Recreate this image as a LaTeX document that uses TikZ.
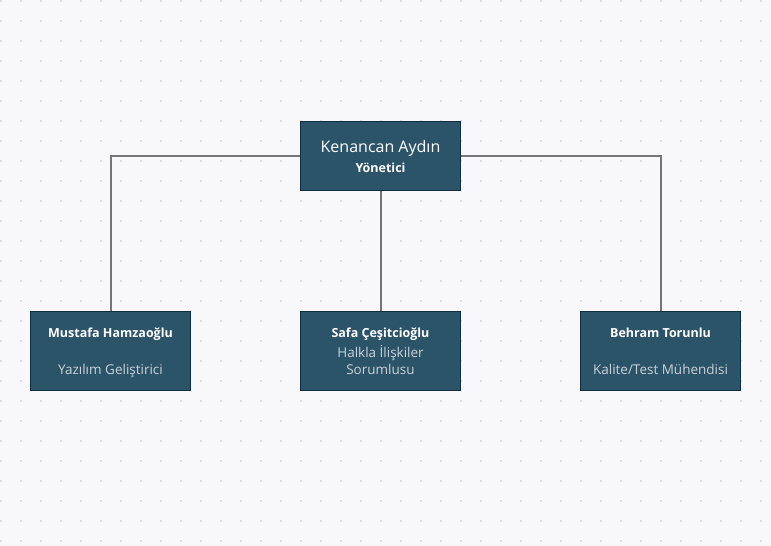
\documentclass[tikz,border=0pt]{standalone}
\usepackage{fontspec}
\setmainfont{Open Sans}
\usepackage{xcolor}
\usepackage{tikz}
\usetikzlibrary{positioning}
\usetikzlibrary{calc}

\definecolor{paper}{HTML}{F8F8FA}
\definecolor{griddot}{HTML}{D2D2D6}
\definecolor{boxfill}{HTML}{2C5469}
\definecolor{boxline}{HTML}{0F2E44}
\definecolor{linkgray}{HTML}{757575}
\definecolor{rolegray}{HTML}{C9D2DA}

\begin{document}
\begin{tikzpicture}[x=1pt,y=-1pt,
  person/.style={draw=boxline, fill=boxfill, line width=1.5pt, minimum width=160pt, inner sep=0pt},
  personname/.style={text=white, font=\bfseries\fontsize{12.5}{17}\selectfont, anchor=base, inner sep=0pt},
  personrole/.style={text=rolegray, font=\fontsize{13.5}{17}\selectfont, align=center, anchor=south, inner sep=0pt, text depth=0pt},
  link/.style={draw=linkgray, line width=2pt}]

% Define parameters
\pgfmathsetmacro{\topy}{156}
\pgfmathsetmacro{\rowy}{351}

% Draw background and dots
\fill[paper] (0,0) rectangle (771,546);
\useasboundingbox (0,0) rectangle (771,546);
\foreach \x in {1,21,...,771}
  \foreach \y in {1,21,...,546}
    \fill[griddot] (\x,\y) circle (1.1pt);

% Draw boxes
\node[person, minimum height=69pt, text=white, align=center,
  font=\fontsize{12.5}{20}\selectfont] (boss) at (380.5,\topy)
  {{\fontsize{16}{20}\selectfont Kenancan Aydın}\\{\bfseries Yönetici}};
\node[person, minimum height=79pt] (mustafa) at (110.5,\rowy) {};
\node[person, minimum height=79pt] (safa) at (380.5,\rowy) {};
\node[person, minimum height=79pt] (behram) at (660.5,\rowy) {};

% Draw names and roles
\node[personname] (mustafaname) at ([yshift=-27pt]mustafa.north) {Mustafa Hamzaoğlu};
\node[personrole] (mustafarole) at ([yshift=17pt]mustafa.south) {Yazılım Geliştirici};
\node[personname] (safaname) at ([yshift=-27pt]safa.north) {Safa Çeşitcioğlu};
\node[personrole] (safarole) at ([yshift=17pt]safa.south) {Halkla İlişkiler\\Sorumlusu};
\node[personname] (behramname) at ([yshift=-27pt]behram.north) {Behram Torunlu};
\node[personrole] (behramrole) at ([yshift=17pt]behram.south) {Kalite/Test Mühendisi};

% Draw links
\draw[link] (boss.west) -| (mustafa.north);
\draw[link] (boss.south) -- (safa.north);
\draw[link] (boss.east) -| (behram.north);

\end{tikzpicture}
\end{document}
